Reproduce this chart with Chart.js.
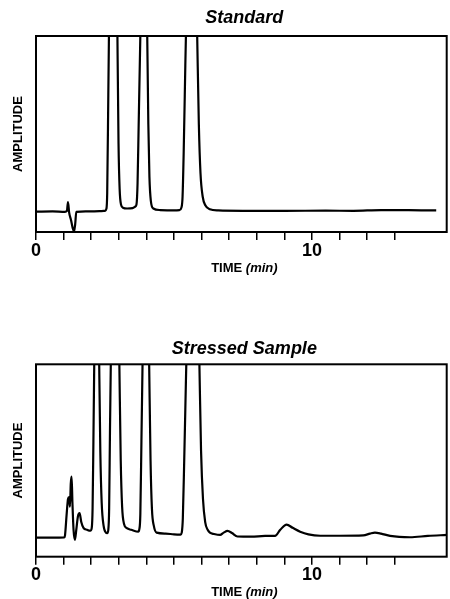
<!DOCTYPE html>
<html>
<head>
<meta charset="utf-8">
<script src="https://cdn.jsdelivr.net/npm/chart.js@4/dist/chart.umd.min.js"></script>
<style>
  html, body { margin: 0; padding: 0; background: #fff; }
  body { width: 450px; height: 599px; position: relative; overflow: hidden; }
  .box { position: absolute; left: 0; width: 450px; }
</style>
</head>
<body>
<div class="box" style="top:0;height:300px"><canvas id="c1"></canvas></div>
<div class="box" style="top:300px;height:299px"><canvas id="c2"></canvas></div>
<script>
// ---- data ----
const chartTitles = ["Standard", "Stressed Sample"];
const yAxisTitle = "AMPLITUDE";
const xAxisTitleMain = "TIME ";
const xAxisTitleUnit = "(min)";
const xLabeledTicks = [0, 10];
const xMin = 0, xMax = 14.88;
const yMin = 0, yMax = 100;

// Standard chromatogram (time in min, amplitude in % of plot height; peaks run off scale)
const stdTime = [0, 0.6, 1.05, 1.12, 1.16, 1.2, 1.27, 1.33, 1.38, 1.42, 1.46, 1.8, 2.3, 2.5, 2.55, 2.58, 2.62, 2.65, 2.68, 2.8, 2.92, 2.95, 2.99, 3.03, 3.08, 3.15, 3.3, 3.5, 3.6, 3.64, 3.68, 3.72, 3.78, 3.84, 3.94, 4.0, 4.03, 4.07, 4.11, 4.16, 4.25, 4.5, 5.0, 5.2, 5.27, 5.31, 5.35, 5.41, 5.47, 5.6, 5.8, 5.84, 5.9, 5.96, 6.04, 6.14, 6.3, 6.6, 7.5, 9, 10.5, 11.5, 12.5, 13.5, 14.5];
const stdAmp  = [10.4, 10.5, 10.3, 10.8, 15.3, 10, 6, 2, 0.3, 4, 10.3, 10.5, 10.6, 10.8, 11.8, 20, 70, 110, 150, 300, 150, 100, 45, 22, 14, 12.4, 12, 12.2, 13, 14, 25, 55, 100, 145, 300, 145, 100, 55, 28, 16, 12, 11.2, 11, 11.2, 12.5, 18, 40, 85, 130, 300, 130, 100, 55, 30, 18, 13.5, 11.6, 11, 10.8, 10.8, 10.9, 10.8, 11.2, 11.2, 11];

// Stressed sample chromatogram
const strTime = [0, 0.6, 1.02, 1.05, 1.11, 1.16, 1.2, 1.23, 1.26, 1.29, 1.32, 1.36, 1.41, 1.46, 1.52, 1.58, 1.64, 1.72, 1.85, 1.97, 2.02, 2.05, 2.08, 2.11, 2.14, 2.2, 2.26, 2.29, 2.33, 2.38, 2.45, 2.53, 2.58, 2.62, 2.65, 2.68, 2.71, 2.74, 2.86, 2.98, 3.02, 3.07, 3.12, 3.19, 3.29, 3.45, 3.71, 3.74, 3.78, 3.82, 3.86, 3.9, 3.98, 4.06, 4.1, 4.15, 4.2, 4.27, 4.37, 4.7, 5.0, 5.24, 5.28, 5.32, 5.37, 5.43, 5.49, 5.7, 5.88, 5.92, 5.98, 6.05, 6.13, 6.22, 6.3, 6.45, 6.67, 6.8, 6.94, 7.1, 7.3, 7.8, 8.3, 8.66, 8.85, 9.08, 9.3, 9.57, 9.87, 10.3, 11, 11.86, 12.1, 12.28, 12.5, 12.83, 13.55, 14.2, 14.88];
const strAmp  = [9.9, 9.9, 10, 11, 22, 30, 31, 26, 38, 41.6, 28, 14, 8.7, 14, 21, 22.6, 18, 15, 14, 13.5, 15, 25, 60, 100, 140, 300, 140, 100, 55, 28, 16, 12.6, 12.3, 14, 25, 65, 100, 140, 300, 140, 100, 50, 26, 17, 14.8, 14, 13, 14, 22, 60, 100, 140, 300, 140, 100, 50, 25, 16, 12.5, 12, 11.6, 11.5, 12.5, 20, 50, 90, 130, 300, 130, 100, 55, 30, 18, 14, 12.5, 11.8, 11.3, 12.5, 13.4, 12.3, 10.5, 10.4, 10.8, 10.8, 14, 16.7, 15, 13, 11.6, 10.9, 10.9, 11.1, 12, 12.5, 12, 10.8, 10.1, 10.8, 11.3];

const FONT = "'Liberation Sans', Arial, sans-serif";

const framePlugin = {
  id: 'frame',
  afterDraw(chart, args, opts) {
    const {ctx, chartArea: a} = chart;
    ctx.save();
    ctx.strokeStyle = '#000';
    ctx.lineWidth = 2;
    ctx.strokeRect(a.left, a.top, a.right - a.left, a.bottom - a.top);
    const cx = (a.left + a.right) / 2 + 3;
    ctx.fillStyle = '#000';
    ctx.textAlign = 'center';
    ctx.textBaseline = 'middle';
    ctx.font = "bold italic 18px " + FONT;
    ctx.fillText(opts.title, cx, a.top - opts.titleGap);
    const f1 = "bold 13px " + FONT, f2 = "bold italic 13px " + FONT;
    ctx.font = f1; const w1 = ctx.measureText(xAxisTitleMain).width;
    ctx.font = f2; const w2 = ctx.measureText(xAxisTitleUnit).width;
    const x0 = cx - (w1 + w2) / 2;
    const ty = a.bottom + opts.xTitleGap;
    ctx.textAlign = 'left';
    ctx.font = f1; ctx.fillText(xAxisTitleMain, x0, ty);
    ctx.font = f2; ctx.fillText(xAxisTitleUnit, x0 + w1, ty);
    ctx.restore();
  }
};

function makeChart(id, times, amps, title, plotTop, xHeight, titleGap) {
  const pts = times.map((t, i) => ({x: t, y: amps[i]}));
  return new Chart(document.getElementById(id), {
    type: 'line',
    data: { datasets: [{
      data: pts,
      borderColor: '#000',
      borderWidth: 2.2,
      pointRadius: 0,
      cubicInterpolationMode: 'monotone',
      fill: false
    }]},
    options: {
      responsive: true,
      maintainAspectRatio: false,
      animation: false,
      layout: { padding: { top: plotTop, right: 3.3, left: 0, bottom: 0 } },
      plugins: {
        legend: { display: false },
        tooltip: { enabled: false },
        frame: { title: title, titleGap: titleGap, xTitleGap: 36 }
      },
      scales: {
        x: {
          type: 'linear', min: xMin, max: xMax,
          afterFit(s) { s.height = xHeight; },
          afterBuildTicks(s) { s.ticks = s.ticks.filter(t => Number.isInteger(t.value)); },
          ticks: {
            stepSize: 1, autoSkip: false, maxRotation: 0, padding: 0,
            color: '#000', font: { family: FONT, size: 18, weight: 'bold' },
            callback: v => xLabeledTicks.includes(v) ? String(v) : ''
          },
          grid: { display: true, drawOnChartArea: false, drawTicks: true, tickLength: 8, color: '#000', lineWidth: 1.5 },
          border: { display: false }
        },
        y: {
          min: yMin, max: yMax,
          afterFit(s) { s.width = 36; },
          ticks: { display: false },
          grid: { display: false },
          border: { display: false },
          title: { display: true, text: yAxisTitle, color: '#000', padding: { top: 10.5, bottom: 0 },
                   font: { family: FONT, size: 13, weight: 'bold' } }
        }
      }
    },
    plugins: [framePlugin]
  });
}

makeChart('c1', stdTime, stdAmp, chartTitles[0], 36, 68, 18);
makeChart('c2', strTime, strAmp, chartTitles[1], 64.3, 42.3, 15);
</script>
</body>
</html>
